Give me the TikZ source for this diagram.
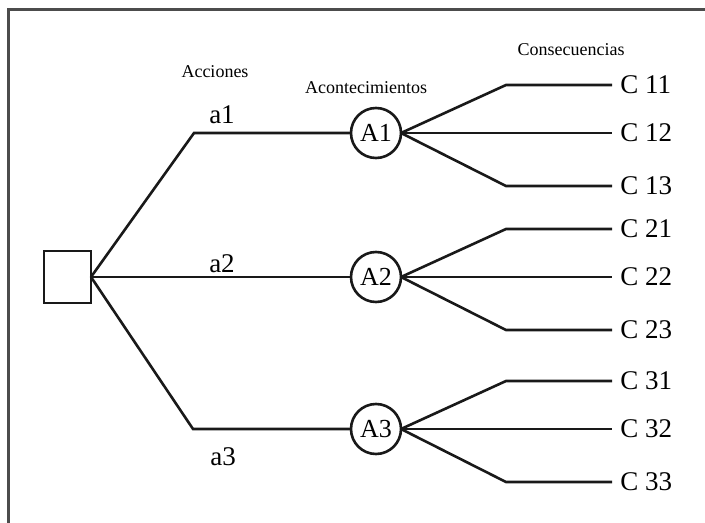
\documentclass[tikz,border=0pt]{standalone}
\usepackage{fontspec}
\setmainfont{Liberation Serif}
\usetikzlibrary{calc, positioning, shapes}
\def\linewidthtree{1.3pt}
\def\treecolor{black!90}
\def\framecolor{black!70}
\def\eventsize{25pt}
\def\kinkdx{105}
\def\labelgap{612}
\tikzset{
	% headings
	heading/.style={
		font=\fontsize{9}{10}\selectfont,
		align=center,
		inner sep=0pt,
	},
	% action and consequence labels
	treelabel/.style={
		font=\fontsize{13.5}{14}\selectfont,
		inner sep=0pt,
	},
	% decision square
	decision/.style={
		shape=rectangle,
		draw=\treecolor,
		line width=\linewidthtree,
		minimum width=23.5pt,
		minimum height=26pt,
		outer sep=0pt,
	},
	% chance circles
	event/.style={
		shape=circle,
		draw=\treecolor,
		line width=\linewidthtree,
		minimum size=\eventsize,
		inner sep=0pt,
		outer sep=0pt,
		font=\fontsize{13}{14}\selectfont,
	},
	% branches
	branch/.style={
		line width=\linewidthtree,
		draw=\treecolor,
		line join=miter,
	}
}
\begin{document}
\begin{tikzpicture}[x=0.5pt, y=-0.5pt]
		\useasboundingbox (0,0) rectangle (705,523);
		% Frame
		\draw [
			\framecolor,
			line width=1.5pt
		] (8,523) -- (8,10) -- (705,10);
		
		% Headings
		\node[heading] (acciones) at (215,72) {Acciones};
		\node[heading] (acontec) at (366,88) {Acontecimientos};
		\node[heading] (consec) at (571,50) {Consecuencias};
		
		% Decision
		\node[
			decision
		] (dec) at (67.5,277) {};
		
		% Events
		\foreach \i/\y in {1/133,2/277,3/429} {
			\node[
				event
			] (A\i) at (376,\y) {A\i};
		}
		
		% Actions
		\coordinate (k1) at (194,133);
		\coordinate (k3) at (193,429);
		\draw [branch] (dec.east) -- (k1) -- (A1.west);
		\draw [branch] (dec.east) -- (A2.west);
		\draw [branch] (dec.east) -- (k3) -- (A3.west);
		\node[treelabel] (a1) at (222,115) {a1};
		\node[treelabel] (a2) at (222,264) {a2};
		\node[treelabel] (a3) at (223,457) {a3};
		
		% Consequences
		\coordinate (cons) at (\labelgap,0);
		\foreach \i in {1,2,3} {
			\foreach \j/\dy in {1/-48,2/0,3/53} {
				\coordinate (K\i\j) at ($(A\i.east)+(\kinkdx,\dy)$);
				\node[
					treelabel,
					anchor=west,
					inner xsep=4pt,
				] (C\i\j) at (K\i\j -| cons) {C \i\j};
				%
				\draw [
					branch
				] (A\i.east) -- (K\i\j) -- (C\i\j.west);
			}
		}
	\end{tikzpicture}
\end{document}
